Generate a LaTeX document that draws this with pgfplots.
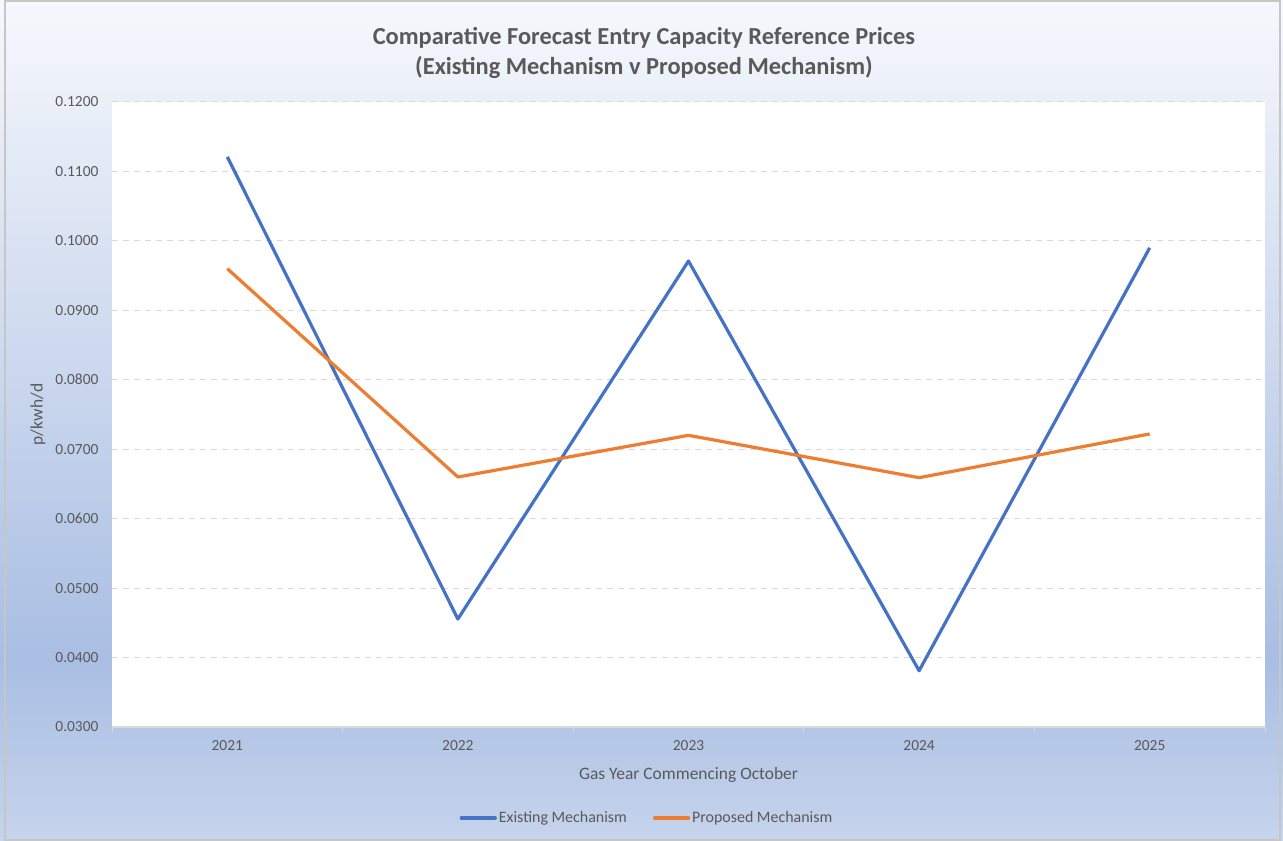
\documentclass[border=0pt]{standalone}
\usepackage{pgfplots}
\pgfplotsset{compat=1.18}
\usepackage{fontspec}
\setmainfont{Carlito}
\definecolor{exblue}{HTML}{4472C4}
\definecolor{proorange}{HTML}{ED7D31}
\definecolor{txtgray}{HTML}{595959}
\definecolor{gridgray}{HTML}{D9D9D9}
\definecolor{bgtop}{HTML}{F6F8FC}
\definecolor{bgmid}{HTML}{A9BEE3}
\definecolor{bgbot}{HTML}{C6D4EC}
\begin{document}
\begin{tikzpicture}[x=1bp,y=1bp]
\shade[top color=bgtop, bottom color=bgmid] (0,181) rectangle (1283,841);
\shade[top color=bgmid, bottom color=bgbot] (0,0) rectangle (1283,181.5);
\draw[gray!45, line width=1.2bp] (5,1) rectangle (1280,840);
\node[font=\bfseries\fontsize{24.5}{30}\selectfont, text=txtgray, align=center] at (644,788)
  {Comparative Forecast Entry Capacity Reference Prices\\(Existing Mechanism v Proposed Mechanism)};
\begin{axis}[
  at={(112bp,114bp)}, anchor=south west,
  scale only axis, width=1153bp, height=625bp,
  axis background/.style={fill=white},
  xmin=-0.5, xmax=4.5, ymin=0.03, ymax=0.12,
  xtick={0,1,2,3,4},
  xticklabels={2021,2022,2023,2024,2025},
  minor xtick={-0.5,0.5,1.5,2.5,3.5,4.5},
  major tick length=0pt,
  minor tick length=5bp,
  tick align=outside,
  ytick={0.03,0.04,...,0.12},
  scaled y ticks=false,
  ymajorgrids,
  grid style={gridgray, dashed, dash pattern=on 6bp off 5bp, line width=1bp},
  axis x line*=bottom, axis y line*=left,
  y axis line style={draw=none},
  x axis line style={gridgray, line width=1.2bp, -},
  minor tick style={gridgray, line width=1bp},
  ticklabel style={font=\fontsize{15.5}{18}\selectfont, text=txtgray},
  xticklabel style={yshift=-10bp},
  yticklabel style={xshift=-10bp, /pgf/number format/.cd, fixed, fixed zerofill, precision=4, assume math mode=true},
  xlabel={Gas Year Commencing October},
  ylabel={p/kwh/d},
  label style={font=\fontsize{17.5}{20}\selectfont, text=txtgray},
  xlabel style={at={(0.5,0)}, anchor=center, yshift=-48bp},
  ylabel style={at={(0,0.5)}, anchor=center, yshift=74bp},
  legend columns=2,
  legend style={at={(0.464,-0.1456)}, anchor=center, draw=none, fill=none,
    font=\fontsize{16}{18}\selectfont, text=txtgray,
    /tikz/every even column/.append style={column sep=24bp}},
  legend image code/.code={\draw[#1, line width=3.2bp, line cap=round] (0bp,0bp) -- (34bp,0bp);},
]
\addplot[exblue, line width=3.2bp, line join=round] coordinates {
(0,0.1121) (1,0.04555) (2,0.0971) (3,0.0381) (4,0.0990)};
\addlegendentry{Existing Mechanism}
\addplot[proorange, line width=3.2bp, line join=round] coordinates {
(0,0.0960) (1,0.0660) (2,0.0720) (3,0.0659) (4,0.0722)};
\addlegendentry{Proposed Mechanism}
\end{axis}
\end{tikzpicture}
\end{document}
